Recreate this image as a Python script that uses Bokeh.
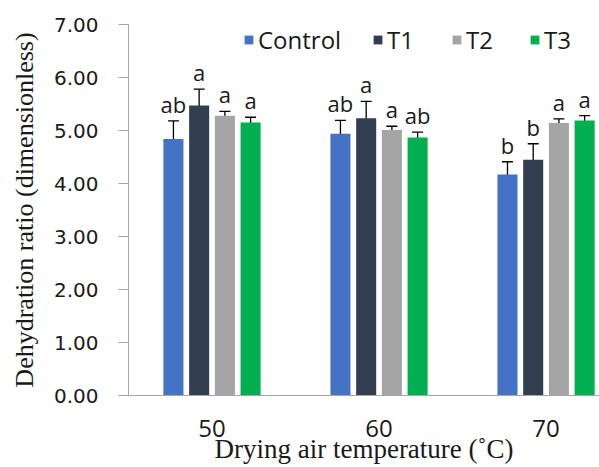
from bokeh.plotting import figure
from bokeh.models import (Range1d, FixedTicker, ColumnDataSource, Whisker, Legend,
                          LegendItem, TeeHead, NumeralTickFormatter)
from bokeh.core.properties import value
from bokeh.embed import file_html
from bokeh.resources import INLINE

temperatures = ["50", "60", "70"]
series = ["Control", "T1", "T2", "T3"]
colors = ["#4472C4", "#333F50", "#A5A5A5", "#00B050"]

control = [4.84, 4.94, 4.17]
control_err = [0.34, 0.25, 0.24]
t1 = [5.47, 5.23, 4.45]
t1_err = [0.31, 0.32, 0.30]
t2 = [5.28, 5.01, 5.14]
t2_err = [0.08, 0.07, 0.08]
t3 = [5.15, 4.87, 5.19]
t3_err = [0.10, 0.10, 0.09]

control_letters = ["ab", "ab", "b"]
t1_letters = ["a", "a", "b"]
t2_letters = ["a", "a", "a"]
t3_letters = ["a", "ab", "a"]

y_ticks = [0, 1, 2, 3, 4, 5, 6, 7]

x_title = "Drying air temperature (˚C)"
y_title = "Dehydration ratio (dimensionless)"

means = [control, t1, t2, t3]
errs = [control_err, t1_err, t2_err, t3_err]
letters = [control_letters, t1_letters, t2_letters, t3_letters]

p = figure(width=599, height=467, x_range=Range1d(0, 2.82), y_range=Range1d(0, 7),
           output_backend="svg", toolbar_location=None,
           min_border_left=128, min_border_right=0, min_border_top=24, min_border_bottom=72)
p.outline_line_color = None
p.xgrid.visible = False
p.ygrid.visible = False

group_centers = [i + 0.5 for i in range(len(temperatures))]
step = 0.154
bar_w = 0.12

renderers = []
for i, s in enumerate(series):
    off = (i - 1.5) * step
    xs = [c + off for c in group_centers]
    src = ColumnDataSource(dict(
        x=xs, top=means[i],
        upper=[m + e for m, e in zip(means[i], errs[i])],
        lower=[m - e for m, e in zip(means[i], errs[i])],
        letters=letters[i]))
    r = p.vbar(x="x", top="top", width=bar_w, bottom=0, source=src,
               fill_color=colors[i], line_color=None)
    renderers.append(r)
    w = Whisker(base="x", upper="upper", lower="lower", source=src,
                line_color="black", line_width=1.3,
                upper_head=TeeHead(size=11, line_color="black", line_width=1.3),
                lower_head=TeeHead(size=11, line_color="black", line_width=1.3))
    p.add_layout(w)
    p.text(x="x", y="upper", text="letters", source=src, text_align="center",
           text_baseline="bottom", y_offset=-2,
           text_font=value("Open Sans"), text_font_size="22px", text_color="#1a1a1a")

# x axis
p.xaxis.ticker = FixedTicker(ticks=group_centers)
p.xaxis.major_label_overrides = {c: t for c, t in zip(group_centers, temperatures)}
p.xaxis.major_tick_out = 0
p.xaxis.major_tick_in = 0
p.xaxis.minor_tick_line_color = None
p.xaxis.axis_line_color = "#A6A6A6"
p.xaxis.major_label_text_font = "Open Sans"
p.xaxis.major_label_text_font_size = "24px"
p.xaxis.major_label_text_color = "#1a1a1a"
p.xaxis.major_label_standoff = 24
p.xaxis.axis_label = x_title
p.xaxis.axis_label_text_font = "Liberation Serif"
p.xaxis.axis_label_text_font_style = "normal"
p.xaxis.axis_label_text_font_size = "27px"
p.xaxis.axis_label_text_color = "#1a1a1a"
p.xaxis.axis_label_standoff = -6

# y axis
p.yaxis.ticker = FixedTicker(ticks=y_ticks)
p.yaxis.formatter = NumeralTickFormatter(format="0.00")
p.yaxis.major_tick_out = 10
p.yaxis.major_tick_in = 0
p.yaxis.major_tick_line_color = "#A6A6A6"
p.yaxis.minor_tick_line_color = None
p.yaxis.axis_line_color = "#A6A6A6"
p.yaxis.major_label_text_font = "DejaVu Sans"
p.yaxis.major_label_text_font_size = "20px"
p.yaxis.major_label_text_color = "#1a1a1a"
p.yaxis.major_label_standoff = 20
p.yaxis.axis_label = y_title
p.yaxis.axis_label_text_font = "Liberation Serif"
p.yaxis.axis_label_text_font_style = "normal"
p.yaxis.axis_label_text_font_size = "26px"
p.yaxis.axis_label_text_color = "#1a1a1a"
p.yaxis.axis_label_standoff = 12

legend_x = [115, 244, 323, 401]
for s, r, lx in zip(series, renderers, legend_x):
    lg = Legend(items=[LegendItem(label=s, renderers=[r])],
                orientation="horizontal", location=(lx, 339),
                label_text_font="Open Sans", label_text_font_size="24px",
                label_text_color="#1a1a1a",
                glyph_width=11, glyph_height=11, label_standoff=4,
                background_fill_alpha=0, border_line_color=None, padding=4, margin=0)
    p.add_layout(lg)

open("out.html", "w").write(file_html(p, INLINE))
